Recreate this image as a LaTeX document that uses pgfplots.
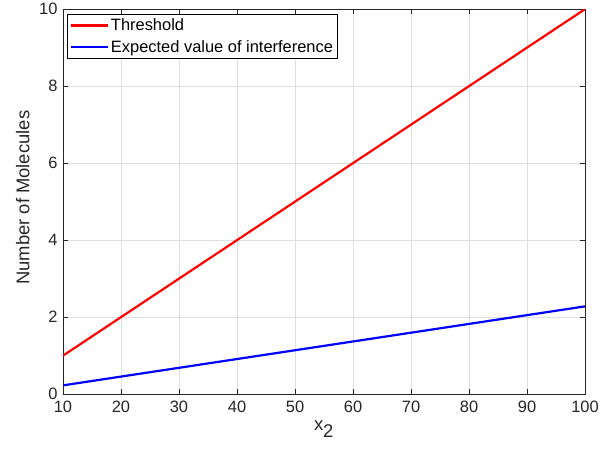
\documentclass[border=0pt]{standalone}
\usepackage{pgfplots}
\pgfplotsset{compat=1.18}
\usepackage{fontspec}
\setmainfont{Liberation Sans}
\definecolor{axgray}{RGB}{38,38,38}
\definecolor{gridgray}{RGB}{223,223,223}
\begin{document}
\begin{tikzpicture}
\begin{axis}[
  name=ax,
  scale only axis,
  width=522bp, height=385bp,
  xmin=10, xmax=100, ymin=0, ymax=10,
  xtick={10,20,...,100}, ytick={0,2,...,10},
  tick align=inside,
  major tick length=5bp,
  grid=major,
  major grid style={gridgray, line width=0.6bp},
  axis line style={axgray, line width=0.7bp},
  tick style={axgray, line width=0.7bp},
  ticklabel style={font=\fontsize{16.5}{18}\selectfont, text=axgray},
  /pgf/number format/assume math mode=true,
  xlabel={x$_{\textrm{2}}$},
  ylabel={Number of Molecules},
  label style={font=\fontsize{18.5}{20}\selectfont, text=axgray},
  xlabel style={at={(0.5,-0.09)}, anchor=center},
  ylabel style={at={(-0.077,0.51)}, anchor=center},
  xticklabel style={yshift=-3bp},
  yticklabel style={xshift=-2bp},
  legend style={at={(rel axis cs:0.008,0.987)}, anchor=north west,
    draw=black, line width=0.5bp, fill=white,
    font=\fontsize{16.5}{18}\selectfont, inner sep=2.5bp,
    row sep=4bp, cells={anchor=west}},
  legend cell align=left,
  legend image code/.code={\draw[#1, line width=2.2bp] (0cm,0cm) -- (1.3cm,0cm);},
]
\addplot[red, line width=2.2bp] coordinates {(10,1) (100,10)};
\addlegendentry{Threshold}
\addplot[blue, line width=2.2bp] coordinates {(10,0.228) (100,2.28)};
\addlegendentry{Expected value of interference}
\end{axis}
\path ([xshift=-63bp,yshift=-56bp]ax.south west) rectangle ([xshift=31bp,yshift=5bp]ax.north east);
\end{tikzpicture}
\end{document}
